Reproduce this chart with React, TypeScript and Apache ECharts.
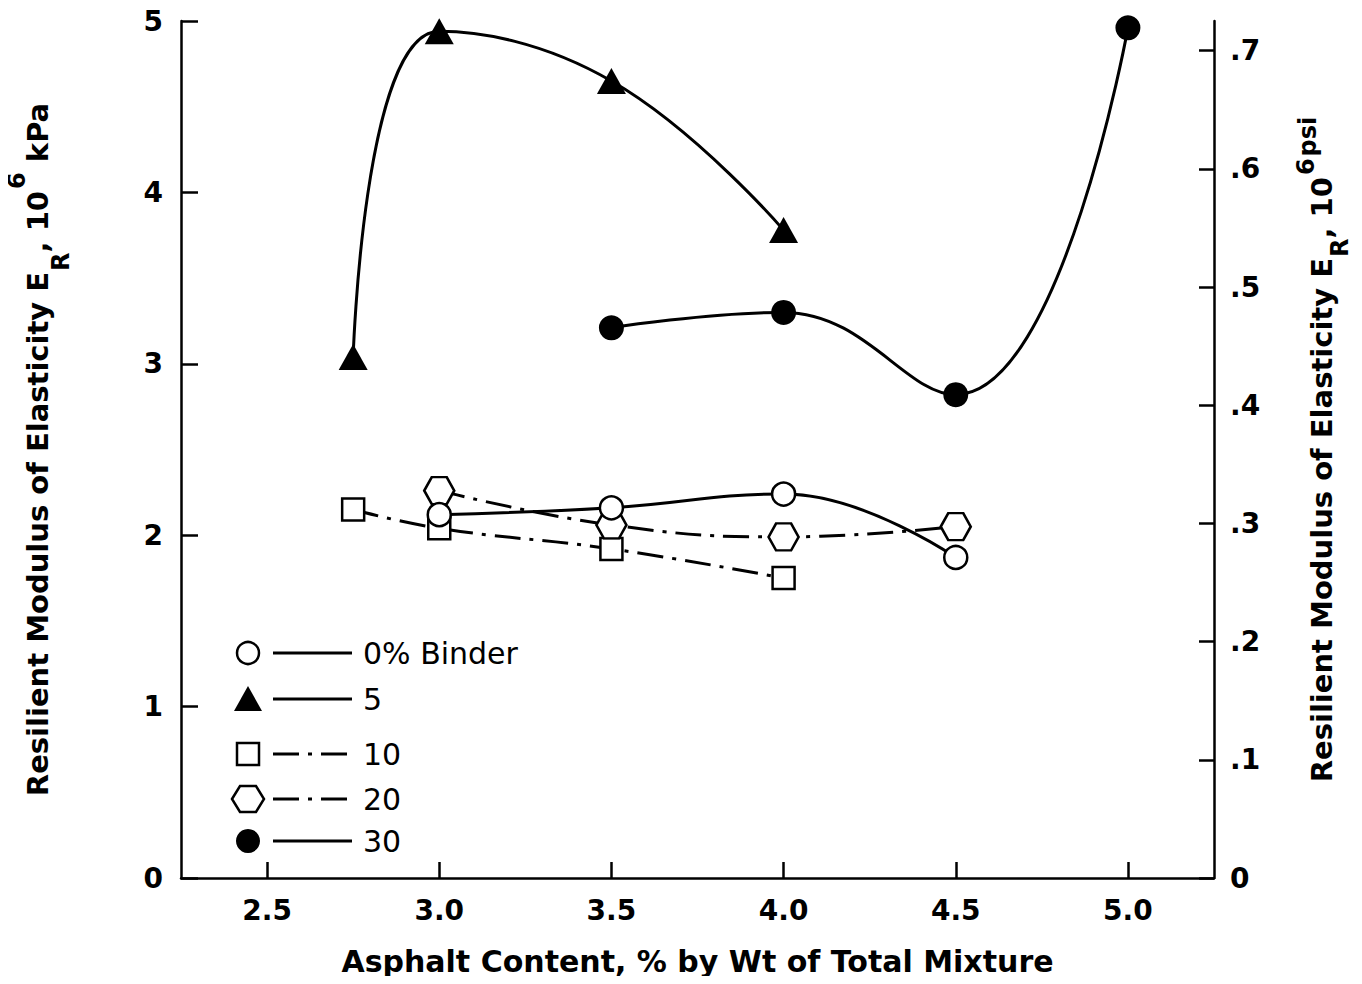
import React, { useEffect, useRef } from "react";
import * as echarts from "echarts";

// ---- data ----
const xTickValues = [2.5, 3.0, 3.5, 4.0, 4.5, 5.0];
const psiTickValues = [0, 0.1, 0.2, 0.3, 0.4, 0.5, 0.6, 0.7];

const binder0X = [3.0, 3.5, 4.0, 4.5];
const binder0Y = [2.12, 2.16, 2.24, 1.87];

const binder5X = [2.75, 3.0, 3.5, 4.0];
const binder5Y = [3.04, 4.94, 4.65, 3.78];

const binder10X = [2.75, 3.0, 3.5, 4.0];
const binder10Y = [2.15, 2.04, 1.92, 1.75];

const binder20X = [3.0, 3.5, 4.0, 4.5];
const binder20Y = [2.26, 2.06, 1.99, 2.05];

const binder30X = [3.5, 4.0, 4.5, 5.0];
const binder30Y = [3.21, 3.3, 2.82, 4.96];

const legendLabels = ["0% Binder", "5", "10", "20", "30"];

const KPA_PER_PSI = 6.895;
const FONT = "'DejaVu Sans', 'Liberation Sans', sans-serif";
const HEX = "path://M0,10 L5,0 L15,0 L20,10 L15,20 L5,20 Z";
const DASHDOT = [26, 9, 4, 9];

const pairs = (xs: number[], ys: number[]) => xs.map((x, i) => [x, ys[i]]);

const makeRich = (lh: number) => ({
  n: { fontSize: 29, fontWeight: "bold", fontFamily: FONT, color: "#000", lineHeight: lh, verticalAlign: "middle" },
  sup: { fontSize: 24, fontWeight: "bold", fontFamily: FONT, color: "#000", lineHeight: 28, verticalAlign: "top", padding: [4, 0, 0, 2] },
  psi: { fontSize: 24, fontWeight: "bold", fontFamily: FONT, color: "#000", lineHeight: 28, verticalAlign: "top", padding: [6, 0, 0, 2] },
  sub: { fontSize: 24, fontWeight: "bold", fontFamily: FONT, color: "#000", lineHeight: 28, verticalAlign: "bottom", padding: [0, 0, 2, 1] },
});

export default function App() {
  const ref = useRef<HTMLDivElement>(null);

  useEffect(() => {
    if (!ref.current) return;
    const chart = echarts.init(ref.current, null, { renderer: "svg" });

    const openItem = { color: "#fff", borderColor: "#000", borderWidth: 2.5 };
    const fillItem = { color: "#000", borderColor: "#000", borderWidth: 0 };

    // legend geometry
    const lgX = 248;
    const lgRows = [653, 699, 754, 799, 841];
    const lineX1 = 273;
    const lineX2 = 352;
    const textX = 363;
    const legendGraphics: any[] = [];
    const lineStyles = [null, null, DASHDOT, DASHDOT, null];
    lgRows.forEach((y, i) => {
      legendGraphics.push({
        type: "line",
        shape: { x1: lineX1, y1: y, x2: lineX2, y2: y },
        style: { stroke: "#000", lineWidth: 3, lineDash: lineStyles[i] || undefined },
      });
      legendGraphics.push({
        type: "text",
        x: textX,
        y: y,
        style: { text: legendLabels[i], font: `30px ${FONT}`, fill: "#000", verticalAlign: "middle" },
      });
    });
    legendGraphics.push({ type: "circle", shape: { cx: lgX, cy: lgRows[0], r: 11 }, style: { fill: "#fff", stroke: "#000", lineWidth: 2.5 } });
    legendGraphics.push({
      type: "polygon",
      shape: { points: [[lgX, lgRows[1] - 13], [lgX + 14, lgRows[1] + 12], [lgX - 14, lgRows[1] + 12]] },
      style: { fill: "#000" },
    });
    legendGraphics.push({ type: "rect", shape: { x: lgX - 11, y: lgRows[2] - 11, width: 22, height: 22 }, style: { fill: "#fff", stroke: "#000", lineWidth: 2.5 } });
    legendGraphics.push({
      type: "polygon",
      shape: {
        points: [
          [lgX - 16, lgRows[3]], [lgX - 8, lgRows[3] - 13], [lgX + 8, lgRows[3] - 13],
          [lgX + 16, lgRows[3]], [lgX + 8, lgRows[3] + 13], [lgX - 8, lgRows[3] + 13],
        ],
      },
      style: { fill: "#fff", stroke: "#000", lineWidth: 2.5 },
    });
    legendGraphics.push({ type: "circle", shape: { cx: lgX, cy: lgRows[4], r: 12 }, style: { fill: "#000" } });

    const baseLine = (data: number[][], dash: any, symbol: string, size: any, item: any, z: number) => ({
      type: "line",
      data,
      smooth: 0.45,
      symbol,
      symbolSize: size,
      showSymbol: true,
      z,
      lineStyle: { color: "#000", width: 3, type: dash || "solid" },
      itemStyle: item,
    });

    chart.setOption({
      animation: false,
      backgroundColor: "#fff",
      grid: { left: 181, right: 148, top: 21, bottom: 106, containLabel: false, outerBoundsMode: "none" },
      xAxis: {
        type: "value",
        min: 2.25,
        max: 5.25,
        name: "Asphalt Content, % by Wt of Total Mixture",
        nameLocation: "middle",
        nameGap: 68,
        nameTextStyle: { fontSize: 30, fontWeight: "bold", fontFamily: FONT, color: "#000" },
        axisLine: { show: true, lineStyle: { color: "#000", width: 2.5 } },
        axisTick: { show: true, inside: true, length: 16, customValues: xTickValues, lineStyle: { color: "#000", width: 2.5 } },
        axisLabel: {
          customValues: xTickValues,
          margin: 18,
          fontSize: 28,
          fontWeight: "bold",
          fontFamily: FONT,
          color: "#000",
          formatter: (v: number) => v.toFixed(1),
        },
        splitLine: { show: false },
      },
      yAxis: [
        {
          type: "value",
          min: 0,
          max: 5,
          interval: 1,
          position: "left",
          name: "{n|Resilient Modulus of Elasticity E}{sub|R}{n|, 10}{sup|6}{n| kPa}",
          nameLocation: "middle",
          nameRotate: 90,
          nameGap: 106,
          nameTextStyle: { rich: makeRich(74) },
          axisLine: { show: true, lineStyle: { color: "#000", width: 2.5 } },
          axisTick: { show: true, inside: true, length: 17, lineStyle: { color: "#000", width: 2.5 } },
          axisLabel: { margin: 18, fontSize: 28, fontWeight: "bold", fontFamily: FONT, color: "#000" },
          splitLine: { show: false },
        },
        {
          type: "value",
          min: 0,
          max: 5 / KPA_PER_PSI,
          position: "right",
          name: "{n|Resilient Modulus of Elasticity E}{sub|R}{n|, 10}{sup|6}{psi|psi}",
          nameLocation: "middle",
          nameRotate: 90,
          nameGap: 76,
          nameTextStyle: { rich: makeRich(64) },
          axisLine: { show: true, lineStyle: { color: "#000", width: 2.5 } },
          axisTick: { show: true, inside: true, length: 15, customValues: psiTickValues, lineStyle: { color: "#000", width: 2.5 } },
          axisLabel: {
            customValues: psiTickValues,
            margin: 16,
            fontSize: 28,
            fontWeight: "bold",
            fontFamily: FONT,
            color: "#000",
            formatter: (v: number) => (v === 0 ? "0" : "." + Math.round(v * 10)),
          },
          splitLine: { show: false },
        },
      ],
      series: [
        baseLine(pairs(binder10X, binder10Y), DASHDOT, "rect", 22, openItem, 2),
        baseLine(pairs(binder20X, binder20Y), DASHDOT, HEX, [30, 27], openItem, 3),
        baseLine(pairs(binder0X, binder0Y), null, "circle", 23, openItem, 4),
        baseLine(pairs(binder5X, binder5Y), null, "triangle", [29, 26], fillItem, 5),
        baseLine(pairs(binder30X, binder30Y), null, "circle", 25, fillItem, 6),
      ],
      graphic: legendGraphics,
    });

    return () => chart.dispose();
  }, []);

  return <div ref={ref} style={{ width: 1362, height: 984, margin: -8 }} />;
}
